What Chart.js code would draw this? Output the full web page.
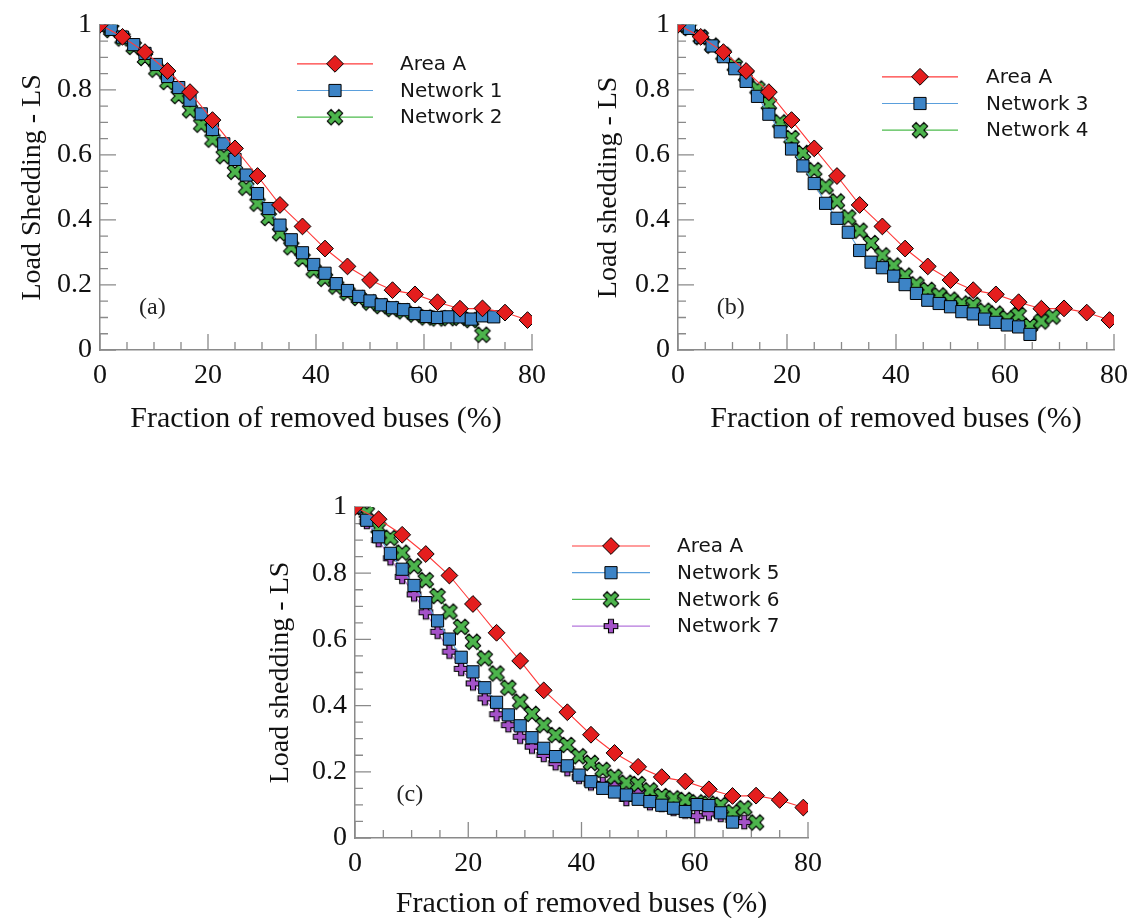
<!DOCTYPE html>
<html><head><meta charset="utf-8">
<script src="https://cdn.jsdelivr.net/npm/chart.js@4.4.0/dist/chart.umd.min.js"></script>
<style>
html,body{margin:0;padding:0;background:#fff;}
#wrap{position:relative;width:1137px;height:918px;overflow:hidden;background:#fff;}
canvas{position:absolute;}
</style></head><body><div id="wrap">
<canvas id="ca" width="568" height="450" style="left:0px;top:0px;width:568px;height:450px"></canvas>
<canvas id="cb" width="569" height="450" style="left:568px;top:0px;width:569px;height:450px"></canvas>
<canvas id="cc" width="620" height="470" style="left:230px;top:460px;width:620px;height:470px"></canvas>
</div>
<script>
// ---------- data ----------
const areaX = [0,4.17,8.33,12.5,16.67,20.83,25,29.17,33.33,37.5,41.67,45.83,50,54.17,58.33,62.5,66.67,70.83,75,79.17];
const netX = [0,2.08,4.17,6.25,8.33,10.42,12.5,14.58,16.67,18.75,20.83,22.92,25,27.08,29.17,31.25,33.33,35.42,37.5,39.58,41.67,43.75,45.83,47.92,50,52.08,54.17,56.25,58.33,60.42,62.5,64.58,66.67,68.75,70.83,72.92];
const xTickLabels = ['0','20','40','60','80'];
const yTickLabels = ['0','0.2','0.4','0.6','0.8','1'];

const areaA = [1.0,0.963,0.916,0.858,0.793,0.707,0.62,0.535,0.446,0.38,0.312,0.257,0.215,0.184,0.171,0.147,0.127,0.128,0.115,0.092];

const net1 = [1.0,0.986,0.962,0.939,0.912,0.878,0.841,0.807,0.768,0.726,0.678,0.634,0.586,0.538,0.481,0.435,0.384,0.339,0.299,0.263,0.236,0.204,0.183,0.165,0.151,0.139,0.130,0.124,0.112,0.103,0.100,0.102,0.102,0.095,0.105,0.102];
const net2 = [1.0,0.984,0.958,0.932,0.898,0.862,0.824,0.781,0.737,0.693,0.647,0.596,0.548,0.499,0.450,0.406,0.359,0.316,0.280,0.245,0.219,0.195,0.176,0.160,0.146,0.135,0.126,0.119,0.109,0.100,0.097,0.098,0.099,0.092,0.047];

const net3 = [1.0,0.989,0.962,0.935,0.902,0.865,0.826,0.780,0.725,0.671,0.618,0.566,0.512,0.451,0.405,0.362,0.306,0.270,0.253,0.227,0.201,0.174,0.153,0.143,0.133,0.118,0.111,0.095,0.085,0.077,0.071,0.048];
const net4 = [1.0,0.99,0.962,0.936,0.908,0.874,0.843,0.804,0.756,0.700,0.652,0.606,0.553,0.503,0.457,0.408,0.367,0.329,0.291,0.260,0.229,0.202,0.185,0.168,0.155,0.143,0.139,0.121,0.112,0.098,0.108,0.074,0.088,0.103];

const net5 = [1.0,0.960,0.910,0.860,0.812,0.763,0.711,0.656,0.601,0.546,0.502,0.454,0.410,0.372,0.339,0.303,0.271,0.246,0.218,0.190,0.170,0.150,0.139,0.130,0.117,0.110,0.099,0.090,0.080,0.101,0.098,0.076,0.048];
const net6 = [1.0,0.983,0.937,0.907,0.862,0.821,0.779,0.731,0.684,0.638,0.593,0.543,0.497,0.454,0.412,0.375,0.341,0.311,0.281,0.247,0.227,0.206,0.185,0.167,0.163,0.144,0.127,0.120,0.115,0.108,0.104,0.100,0.078,0.090,0.047];
const net7 = [1.0,0.955,0.900,0.845,0.789,0.736,0.682,0.623,0.563,0.511,0.467,0.422,0.374,0.341,0.306,0.276,0.251,0.226,0.208,0.185,0.165,0.163,0.158,0.118,0.140,0.105,0.100,0.088,0.080,0.066,0.074,0.070,0.055,0.048];

// ---------- marker images ----------
function crossImg(fill, a, b, rot) {
  const c = document.createElement('canvas');
  c.width = 22; c.height = 22;
  const g = c.getContext('2d');
  g.translate(11, 11); g.rotate(rot);
  const p = [[-b,-a],[b,-a],[b,-b],[a,-b],[a,b],[b,b],[b,a],[-b,a],[-b,b],[-a,b],[-a,-b],[-b,-b]];
  g.beginPath();
  p.forEach((q,i)=> i ? g.lineTo(q[0],q[1]) : g.moveTo(q[0],q[1]));
  g.closePath();
  g.fillStyle = fill; g.fill();
  g.lineWidth = 1.1; g.strokeStyle = '#000'; g.stroke();
  return c;
}
const xImg = crossImg('#4cb44c', 8.2, 2.7, Math.PI/4);
const plusImg = crossImg('#a452c8', 6.8, 2.5, 0);

const STY = {
  area:   {line:'#ff3a3a', fill:'#e41e1e', style:'rectRot', r:8.4},
  blue:   {line:'#5a9fdc', fill:'#3d84c6', style:'rect', r:8.6},
  green:  {line:'#4cbb4c', fill:'#4cb44c', style:xImg, r:7},
  purple: {line:'#b476dc', fill:'#a452c8', style:plusImg, r:7}
};

function ds(label, xs, ys, kind) {
  const s = STY[kind];
  return {
    label, data: ys.map((y,i)=>({x:xs[i], y})),
    borderColor: s.line, borderWidth: 1.1,
    pointStyle: s.style, pointRadius: s.r, pointBackgroundColor: s.fill,
    pointBorderColor: '#000', pointBorderWidth: 1, clip: 0, tension: 0, fill: false
  };
}

const SERIF = '"Liberation Serif", "Times New Roman", serif';

function makeChart(id, datasets, geo) {
  const ticksPlugin = {
    id: 'inTicks',
    beforeDatasetsDraw(chart) {
      const {ctx, chartArea: ca} = chart;
      const xs = chart.scales.x, ys = chart.scales.y;
      ctx.save();
      ctx.strokeStyle = '#8a8a8a'; ctx.lineWidth = 1.3;
      ctx.beginPath();
      for (let v = 0; v <= 80; v += 5) {
        const p = xs.getPixelForValue(v), L = (v % 20 === 0) ? 16 : 8;
        ctx.moveTo(p, ca.bottom); ctx.lineTo(p, ca.bottom - L);
      }
      for (let k = 0; k <= 20; k++) {
        const p = ys.getPixelForValue(k * 0.05), L = (k % 4 === 0) ? 16 : 8;
        ctx.moveTo(ca.left, p); ctx.lineTo(ca.left + L, p);
      }
      ctx.stroke();
      ctx.restore();
    }
  };
  const legendPlugin = {
    id: 'inLegend',
    afterDraw(chart) {
      const {ctx, chartArea: ca} = chart;
      ctx.save();
      chart.data.datasets.forEach((d, i) => {
        const y = ca.top + geo.ly + i * 26.7;
        const x0 = ca.left + geo.lx;
        ctx.strokeStyle = d.borderColor; ctx.lineWidth = 1.2;
        ctx.beginPath(); ctx.moveTo(x0, y); ctx.lineTo(x0 + geo.ll, y); ctx.stroke();
        ctx.fillStyle = d.pointBackgroundColor; ctx.strokeStyle = '#000'; ctx.lineWidth = 1;
        Chart.helpers.drawPoint(ctx, {pointStyle: d.pointStyle, radius: d.pointRadius, borderWidth: 1, rotation: 0}, x0 + geo.ll / 2, y);
        ctx.fillStyle = '#151515';
        ctx.font = '20px "DejaVu Sans", sans-serif';
        ctx.textAlign = 'left'; ctx.textBaseline = 'middle';
        ctx.fillText(d.label, x0 + geo.tx, y + 1);
      });
      ctx.restore();
    }
  };
  const labelPlugin = {
    id: 'panelLabel',
    afterDraw(chart) {
      const {ctx} = chart;
      ctx.save();
      ctx.fillStyle = '#222';
      ctx.font = '24px ' + SERIF;
      ctx.textAlign = 'center'; ctx.textBaseline = 'middle';
      ctx.fillText(geo.tag, chart.scales.x.getPixelForValue(9.7), chart.scales.y.getPixelForValue(0.13));
      ctx.restore();
    }
  };
  return new Chart(document.getElementById(id), {
    type: 'line',
    data: {datasets},
    options: {
      responsive: false, animation: false, events: [],
      layout: {padding: {left: 0, top: geo.pt, right: geo.pr, bottom: 0}},
      plugins: {legend: {display: false}, tooltip: {enabled: false}},
      scales: {
        x: {
          type: 'linear', min: 0, max: 80,
          ticks: {stepSize: 20, padding: 9, color: '#111', font: {family: SERIF, size: 28}, maxRotation: 0, autoSkip: false,
                  callback: v => xTickLabels[Math.round(v / 20)]},
          grid: {display: false, drawTicks: false},
          border: {display: true, color: '#8a8a8a', width: 1.5},
          title: {display: true, text: 'Fraction of removed buses (%)', color: '#111', font: {family: SERIF, size: 30, lineHeight: 1.2}, padding: {top: 0, bottom: geo.xtb}},
          afterFit: s => { s.height = geo.xh; }
        },
        y: {
          type: 'linear', min: 0, max: 1,
          ticks: {stepSize: 0.2, padding: 8, color: '#111', font: {family: SERIF, size: 28},
                  callback: v => yTickLabels[Math.round(v * 5)]},
          grid: {display: false, drawTicks: false},
          border: {display: true, color: '#8a8a8a', width: 1.5},
          title: {display: true, text: geo.ytitle, color: '#111', font: {family: SERIF, size: 28, lineHeight: 1.2}, padding: {top: geo.ytp, bottom: 0}},
          afterFit: s => { s.width = geo.yw; }
        }
      }
    },
    plugins: [ticksPlugin, legendPlugin, labelPlugin]
  });
}

makeChart('ca', [
  ds('Area A', areaX, areaA, 'area'),
  ds('Network 1', netX, net1, 'blue'),
  ds('Network 2', netX, net2, 'green')
], {pt: 23, pr: 36, xh: 100, yw: 100, xtb: 13, ytp: 16, ytitle: 'Load Shedding - LS', lx: 197, ly: 39, ll: 76, tx: 103, tag: '(a)'});

makeChart('cb', [
  ds('Area A', areaX, areaA, 'area'),
  ds('Network 3', netX, net3, 'blue'),
  ds('Network 4', netX, net4, 'green')
], {pt: 23, pr: 20, xh: 100, yw: 110, xtb: 13, ytp: 24, ytitle: 'Load shedding - LS', lx: 204, ly: 52, ll: 76, tx: 104, tag: '(b)'});

makeChart('cc', [
  ds('Area A', areaX, areaA, 'area'),
  ds('Network 5', netX, net5, 'blue'),
  ds('Network 6', netX, net6, 'green'),
  ds('Network 7', netX, net7, 'purple')
], {pt: 47, pr: 42, xh: 92, yw: 125, xtb: 8, ytp: 34, ytitle: 'Load shedding - LS', lx: 217, ly: 39, ll: 78, tx: 105, tag: '(c)'});
</script>
</body></html>
